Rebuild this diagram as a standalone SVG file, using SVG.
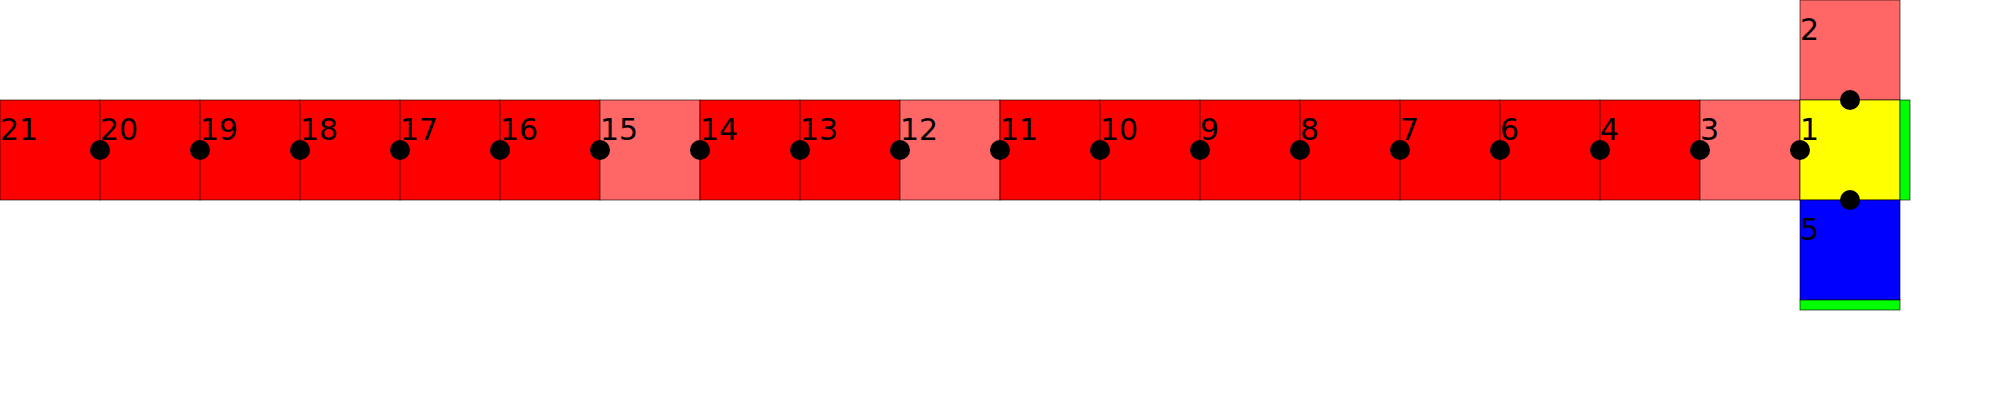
<svg xmlns="http://www.w3.org/2000/svg" width="2000" height="400" viewBox="0 0 2000 400">
<style>
rect{stroke:#000;stroke-opacity:0.6;stroke-width:1}
.r{fill:#ff0000}.l{fill:#ff6666}.y{fill:#ffff00}.b{fill:#0000ff}.g{fill:#00ff00}
text{font-family:"DejaVu Sans",sans-serif;font-size:30px;fill:#000}
circle{fill:#000}
</style>
<rect width="2000" height="400" fill="#fff" style="stroke:none"/>
<g id="n21"><rect class="r" x="0" y="100" width="100" height="100"/><text x="0" y="140">21</text></g>
<g id="n20"><rect class="r" x="100" y="100" width="100" height="100"/><text x="100" y="140">20</text></g>
<g id="n19"><rect class="r" x="200" y="100" width="100" height="100"/><text x="200" y="140">19</text></g>
<g id="n18"><rect class="r" x="300" y="100" width="100" height="100"/><text x="300" y="140">18</text></g>
<g id="n17"><rect class="r" x="400" y="100" width="100" height="100"/><text x="400" y="140">17</text></g>
<g id="n16"><rect class="r" x="500" y="100" width="100" height="100"/><text x="500" y="140">16</text></g>
<g id="n15"><rect class="l" x="600" y="100" width="100" height="100"/><text x="600" y="140">15</text></g>
<g id="n14"><rect class="r" x="700" y="100" width="100" height="100"/><text x="700" y="140">14</text></g>
<g id="n13"><rect class="r" x="800" y="100" width="100" height="100"/><text x="800" y="140">13</text></g>
<g id="n12"><rect class="l" x="900" y="100" width="100" height="100"/><text x="900" y="140">12</text></g>
<g id="n11"><rect class="r" x="1000" y="100" width="100" height="100"/><text x="1000" y="140">11</text></g>
<g id="n10"><rect class="r" x="1100" y="100" width="100" height="100"/><text x="1100" y="140">10</text></g>
<g id="n9"><rect class="r" x="1200" y="100" width="100" height="100"/><text x="1200" y="140">9</text></g>
<g id="n8"><rect class="r" x="1300" y="100" width="100" height="100"/><text x="1300" y="140">8</text></g>
<g id="n7"><rect class="r" x="1400" y="100" width="100" height="100"/><text x="1400" y="140">7</text></g>
<g id="n6"><rect class="r" x="1500" y="100" width="100" height="100"/><text x="1500" y="140">6</text></g>
<g id="n4"><rect class="r" x="1600" y="100" width="100" height="100"/><text x="1600" y="140">4</text></g>
<g id="n3"><rect class="l" x="1700" y="100" width="100" height="100"/><text x="1700" y="140">3</text></g>
<g id="n2"><rect class="l" x="1800" y="0" width="100" height="100"/><text x="1800" y="40">2</text></g>
<g id="n1"><rect class="y" x="1800" y="100" width="100" height="100"/><rect class="g" x="1900" y="100" width="10" height="100"/><text x="1800" y="140">1</text></g>
<g id="n5"><rect class="b" x="1800" y="200" width="100" height="100"/><rect class="g" x="1800" y="300" width="100" height="10"/><text x="1800" y="240">5</text></g>
<g id="connectors">
<circle cx="100" cy="150" r="10"/><circle cx="200" cy="150" r="10"/><circle cx="300" cy="150" r="10"/>
<circle cx="400" cy="150" r="10"/><circle cx="500" cy="150" r="10"/><circle cx="600" cy="150" r="10"/>
<circle cx="700" cy="150" r="10"/><circle cx="800" cy="150" r="10"/><circle cx="900" cy="150" r="10"/>
<circle cx="1000" cy="150" r="10"/><circle cx="1100" cy="150" r="10"/><circle cx="1200" cy="150" r="10"/>
<circle cx="1300" cy="150" r="10"/><circle cx="1400" cy="150" r="10"/><circle cx="1500" cy="150" r="10"/>
<circle cx="1600" cy="150" r="10"/><circle cx="1700" cy="150" r="10"/><circle cx="1800" cy="150" r="10"/>
<circle cx="1850" cy="100" r="10"/><circle cx="1850" cy="200" r="10"/>
</g>
</svg>
